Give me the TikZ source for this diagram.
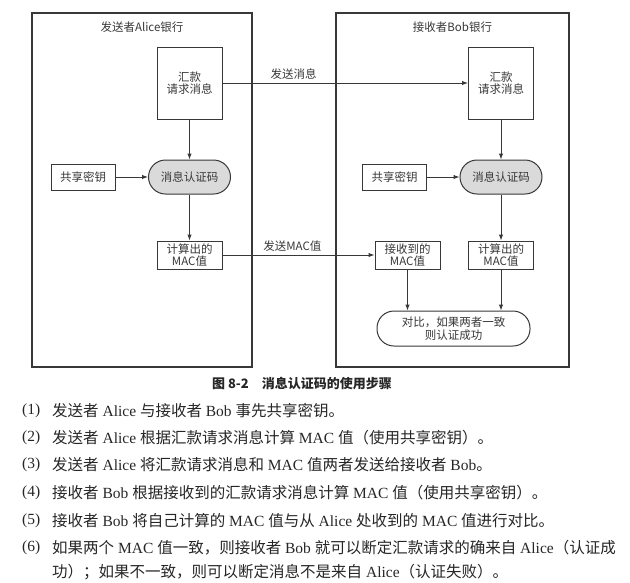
\documentclass[tikz,border=0pt]{standalone}
\usepackage{fontspec}
\setmainfont{Liberation Serif}
\newfontfamily\cjk{Noto Sans CJK SC}
\usetikzlibrary{arrows.meta,positioning,calc}
\definecolor{inkg}{HTML}{383838}
\definecolor{macfill}{HTML}{DADADA}
\newcommand\zh[1]{{\cjk #1}}

\begin{document}
\begin{tikzpicture}[x=1pt,y=-1pt,
  bank/.style={draw=inkg,line width=1.2pt,minimum height=354pt,inner sep=0pt},
  box/.style={draw=inkg,line width=1pt,fill=white,inner sep=0pt,minimum width=65pt,
              align=center,text=inkg,font=\cjk\fontsize{11.5}{12.5}\selectfont},
  pill/.style={box,rounded corners=17pt,fill=macfill,minimum width=82pt,minimum height=34pt},
  arr/.style={-{Latex[length=6pt,width=4.5pt]},line width=1pt,draw=inkg},
  lbl/.style={font=\cjk\fontsize{11.5}{13}\selectfont,text=inkg,inner sep=1pt},
  item/.style={anchor=west,inner sep=0pt,text=black!85,font=\fontsize{15.5}{18}\selectfont}
]
\useasboundingbox (0,0) rectangle (630,582);

% the two banks
\node[bank,minimum width=220pt] (alice) at (142,190) {};
\node[bank,minimum width=233pt] (bob) at (452.5,190) {};
\node[lbl,below=8pt of alice.north] (atitle) {发送者Alice银行};
\node[lbl,below=8pt of bob.north] (btitle) {接收者Bob银行};

% sender side
\node[box,minimum height=72pt] (msgA) at (189.5,83) {汇款\\请求消息};
\node[pill] (macA) at (189.5,177) {消息认证码};
\node[box,minimum width=64pt,minimum height=26pt] (keyA) at (83,177) {共享密钥};
\node[box,minimum height=28pt] (calcA) at (189.5,255) {计算出的\\MAC值};

% receiver side
\node[box,minimum height=72pt] (msgB) at (501,83) {汇款\\请求消息};
\node[pill] (macB) at (501,177) {消息认证码};
\node[box,minimum width=64pt,minimum height=26pt] (keyB) at (394.5,177) {共享密钥};
\node[box,minimum height=28pt] (recvB) at (407.5,255) {接收到的\\MAC值};
\node[box,minimum height=28pt] (calcB) at (501,255) {计算出的\\MAC值};
\node[pill,fill=white,minimum width=153pt,minimum height=35pt] (cmp) at (453.5,328.5)
  {对比，如果两者一致\\则认证成功};

\draw[arr] (msgA) -- (msgB) node[lbl,pos=0.29,above=2pt] {发送消息};
\draw[arr] (calcA) -- (recvB) node[lbl,pos=0.46,above=2pt] {发送MAC值};
\draw[arr] (msgA) -- (macA);
\draw[arr] (keyA) -- (macA);
\draw[arr] (macA) -- (calcA);
\draw[arr] (msgB) -- (macB);
\draw[arr] (keyB) -- (macB);
\draw[arr] (macB) -- (calcB);
\draw[arr] (recvB.south) -- (recvB.south |- cmp.north);
\draw[arr] (calcB.south) -- (calcB.south |- cmp.north);

% caption and steps
\node[text=black!85,font=\cjk\bfseries\fontsize{13}{15}\selectfont] (cap) at (302,384)
  {图 8-2\quad 消息认证码的使用步骤};
\node[item] (n1) at (22,411) {(1)};
\node[item] (t1) at (52,411) {\zh{发送者} Alice \zh{与接收者} Bob \zh{事先共享密钥。}};
\node[item] (n2) at (22,438) {(2)};
\node[item] (t2) at (52,438) {\zh{发送者} Alice \zh{根据汇款请求消息计算} MAC \zh{值（使用共享密钥）。}};
\node[item] (n3) at (22,465) {(3)};
\node[item] (t3) at (52,465) {\zh{发送者} Alice \zh{将汇款请求消息和} MAC \zh{值两者发送给接收者} Bob\zh{。}};
\node[item] (n4) at (22,493) {(4)};
\node[item] (t4) at (52,493) {\zh{接收者} Bob \zh{根据接收到的汇款请求消息计算} MAC \zh{值（使用共享密钥）。}};
\node[item] (n5) at (22,521) {(5)};
\node[item] (t5) at (52,521) {\zh{接收者} Bob \zh{将自己计算的} MAC \zh{值与从} Alice \zh{处收到的} MAC \zh{值进行对比。}};
\node[item] (n6) at (22,548) {(6)};
\node[item] (t6) at (52,548) {\zh{如果两个} MAC \zh{值一致，则接收者} Bob \zh{就可以断定汇款请求的确来自} Alice\zh{（认证成}};
\node[item] (t7) at (52,572) {\zh{功）；如果不一致，则可以断定消息不是来自} Alice\zh{（认证失败）。}};
\end{tikzpicture}
\end{document}
